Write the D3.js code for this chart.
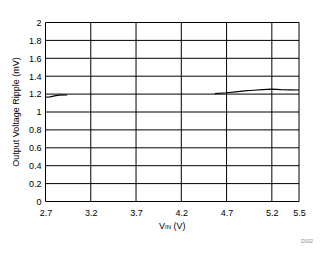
<!DOCTYPE html>
<html>
<head>
<meta charset="utf-8">
<script src="https://cdn.jsdelivr.net/npm/d3@7"></script>
<style>
  body { margin: 0; background: #fff; }
  text { font-family: "Liberation Sans", Arial, sans-serif; }
</style>
</head>
<body>
<div id="plot"></div>
<script>
// tick values
const xTicks = [2.7, 3.2, 3.7, 4.2, 4.7, 5.2, 5.5];
const yTicks = [0, 0.2, 0.4, 0.6, 0.8, 1, 1.2, 1.4, 1.6, 1.8, 2];

// ripple, low Vin part
const rippleLow = [
  { x: 2.70, y: 1.165 },
  { x: 2.75, y: 1.170 },
  { x: 2.80, y: 1.180 },
  { x: 2.85, y: 1.188 },
  { x: 2.94, y: 1.190 }
];

// ripple, high Vin part
const rippleHigh = [
  { x: 4.57, y: 1.205 },
  { x: 4.70, y: 1.215 },
  { x: 4.80, y: 1.225 },
  { x: 4.90, y: 1.235 },
  { x: 5.00, y: 1.243 },
  { x: 5.10, y: 1.250 },
  { x: 5.20, y: 1.256 },
  { x: 5.30, y: 1.250 },
  { x: 5.40, y: 1.247 },
  { x: 5.50, y: 1.246 }
];

const W = 328, H = 254;
const margin = { top: 22.5, right: 29, bottom: 52.5, left: 45.5 };
const width = W - margin.left - margin.right;
const height = H - margin.top - margin.bottom;

const root = d3.select("#plot").append("svg")
  .attr("width", W)
  .attr("height", H);

const svg = root.append("g")
  .attr("transform", "translate(" + margin.left + "," + margin.top + ")");

const xScale = d3.scaleLinear().domain([2.7, 5.5]).range([0, width]);
const yScale = d3.scaleLinear().domain([0, 2]).range([height, 0]);

// grid
svg.append("g")
  .selectAll("line")
  .data(yTicks)
  .join("line")
  .attr("x1", 0).attr("x2", width)
  .attr("y1", d => yScale(d)).attr("y2", d => yScale(d))
  .attr("stroke", "#000").attr("stroke-width", 1);

svg.append("g")
  .selectAll("line")
  .data(xTicks)
  .join("line")
  .attr("y1", 0).attr("y2", height)
  .attr("x1", d => xScale(d)).attr("x2", d => xScale(d))
  .attr("stroke", "#000").attr("stroke-width", 1);

// axes (labels only)
const xAxis = svg.append("g")
  .attr("transform", "translate(0," + height + ")")
  .call(d3.axisBottom(xScale).tickValues(xTicks).tickSize(0).tickPadding(8).tickFormat(d3.format("")));
const yAxis = svg.append("g")
  .call(d3.axisLeft(yScale).tickValues(yTicks).tickSize(0).tickPadding(4).tickFormat(d3.format("")));

[xAxis, yAxis].forEach(a => {
  a.select(".domain").remove();
  a.selectAll("text")
    .attr("font-family", "Liberation Sans, Arial, sans-serif")
    .attr("font-size", 9)
    .attr("fill", "#000");
});

// data lines
const line = d3.line()
  .x(d => xScale(d.x))
  .y(d => yScale(d.y));

[rippleLow, rippleHigh].forEach(s => {
  svg.append("path")
    .datum(s)
    .attr("d", line)
    .attr("fill", "none")
    .attr("stroke", "#000")
    .attr("stroke-width", 1.2);
});

// axis titles
root.append("text")
  .attr("transform", "translate(19," + (margin.top + height / 2) + ") rotate(-90)")
  .attr("text-anchor", "middle")
  .attr("font-size", 9)
  .text("Output Voltage Ripple (mV)");

const xt = root.append("text")
  .attr("x", margin.left + width / 2)
  .attr("y", 229)
  .attr("text-anchor", "middle")
  .attr("font-size", 9);
xt.append("tspan").text("V");
xt.append("tspan").attr("font-size", 6).text("IN");
xt.append("tspan").text(" (V)");

root.append("text")
  .attr("x", 313)
  .attr("y", 243)
  .attr("text-anchor", "end")
  .attr("font-size", 5)
  .attr("fill", "#888")
  .text("D002");
</script>
</body>
</html>
